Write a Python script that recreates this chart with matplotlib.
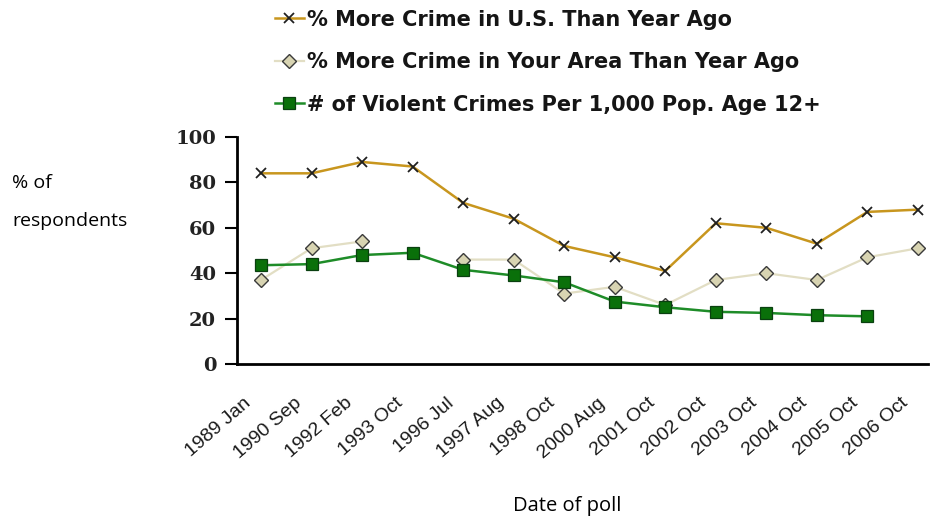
import numpy as np
import matplotlib
matplotlib.use("Agg")
import matplotlib.pyplot as plt
import matplotlib.transforms as mtransforms

polls = ["1989 Jan", "1990 Sep", "1992 Feb", "1993 Oct", "1996 Jul", "1997 Aug",
         "1998 Oct", "2000 Aug", "2001 Oct", "2002 Oct", "2003 Oct", "2004 Oct",
         "2005 Oct", "2006 Oct"]
more_crime_us = [84, 84, 89, 87, 71, 64, 52, 47, 41, 62, 60, 53, 67, 68]
more_crime_area = [37, 51, 54, np.nan, 46, 46, 31, 34, 26, 37, 40, 37, 47, 51]
violent_per_1000 = [43.5, 44, 48, 49, 41.5, 39, 36, 27.5, 25, 23, 22.5, 21.5, 21, np.nan]

labels = ["% More Crime in U.S. Than Year Ago",
          "% More Crime in Your Area Than Year Ago",
          "# of Violent Crimes Per 1,000 Pop. Age 12+"]

fig = plt.figure(figsize=(9.31, 5.17), dpi=100)
ax = fig.add_axes([237 / 931, 1 - 364 / 517, (928 - 237) / 931, (364 - 137) / 517])

x = np.arange(len(polls))
ax.plot(x, more_crime_us, color="#C8961E", lw=1.8, marker="x", ms=7,
        mec="#202020", mew=1.3, label=labels[0], zorder=3)
ax.plot(x, more_crime_area, color="#E2DEC4", lw=1.6, marker="D", ms=7,
        mfc="#D8D4B2", mec="#3A3A3A", mew=1.0, label=labels[1], zorder=2)
ax.plot(x, violent_per_1000, color="#1E8C28", lw=1.8, marker="s", ms=9,
        mfc="#0A700A", mec="#0A4010", mew=0.9, label=labels[2], zorder=4)

ax.set_xlim(-0.475, 13.2)
ax.set_ylim(0, 100)
ax.set_yticks([0, 20, 40, 60, 80, 100])
ax.set_xticks(x)
ax.set_xticklabels(polls, rotation=41, ha="right", va="center",
                   rotation_mode="anchor", fontsize=14,
                   family="Liberation Sans", color="#1a1a1a")
ax.tick_params(axis="x", length=0, pad=0)
shift = mtransforms.ScaledTranslation(-12 / 100, -37 / 100, fig.dpi_scale_trans)
for t in ax.get_xticklabels():
    t.set_transform(t.get_transform() + shift)

ax.tick_params(axis="y", length=9, width=1.5, direction="out", pad=6)
for t in ax.get_yticklabels():
    t.set_fontfamily("DejaVu Serif")
    t.set_fontweight("bold")
    t.set_fontsize(14)
    t.set_color("#222222")

for s in ["top", "right"]:
    ax.spines[s].set_visible(False)
ax.spines["left"].set_linewidth(2)
ax.spines["bottom"].set_linewidth(2)

fig.text(12 / 931, 1 - 202 / 517, "% of\nrespondents", ha="left", va="center",
         fontsize=14, family="Open Sans", linespacing=2.45)
fig.text(567 / 931, 1 - 506 / 517, "Date of poll", ha="center", va="center",
         fontsize=14.5, family="Open Sans")

leg = fig.legend(loc="upper left", bbox_to_anchor=(256 / 931, 1 + 9 / 517),
                 frameon=False, handlelength=1.4, handletextpad=0.15,
                 labelspacing=1.08, prop={"family": "DejaVu Sans",
                                          "weight": "bold", "size": 15})
for t in leg.get_texts():
    t.set_color("#151515")

fig.savefig("out.png", dpi=100)
